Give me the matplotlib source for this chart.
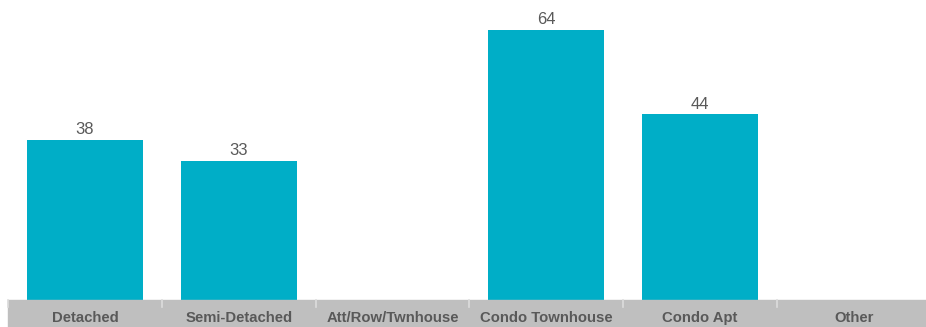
from matplotlib import pyplot as plt
from matplotlib.patches import Rectangle
import numpy as np

categories = ["Detached", "Semi-Detached", "Att/Row/Twnhouse", "Condo Townhouse", "Condo Apt", "Other"]
values = [38, 33, None, 64, 44, None]

plt.rcParams["font.family"] = ["Liberation Sans", "DejaVu Sans"]

W, H = 926, 327
fig = plt.figure(figsize=(W / 100, H / 100), dpi=100)
left = 8 / W
band_h = 27 / H
ax = fig.add_axes([left, band_h, 1 - left, 1 - band_h])

x = np.arange(len(categories))
heights = [v if v is not None else 0 for v in values]
bars = ax.bar(x, heights, width=0.755, color="#00AEC7")
for xi, v in zip(x, values):
    if v is not None:
        ax.annotate(str(v), (xi, v), xytext=(0, 2), textcoords="offset points",
                    ha="center", va="bottom", fontsize=12, color="#595959")

ax.set_xlim(-0.5, 5.47)
ax.set_ylim(0, 71.1)
ax.axis("off")

# grey category band at the bottom
fig.patches.append(Rectangle((left, 0), 1 - left, band_h, transform=fig.transFigure,
                             color="#BFBFBF", zorder=0))
sep_px = [8 + i * 153.8 for i in range(6)]
for sx in sep_px:
    fig.add_artist(plt.Line2D([sx / W, sx / W], [band_h, band_h - 7 / H], transform=fig.transFigure,
                              color="#DCDCDC", lw=1.2))
for xi, name in zip(x, categories):
    fx = (sep_px[0] + (xi + 0.5) * 153.8) / W
    fig.text(fx, 9 / H, name, ha="center", va="center", fontsize=10.7, fontweight="bold", color="#595959")

fig.savefig("out.png", dpi=100)
